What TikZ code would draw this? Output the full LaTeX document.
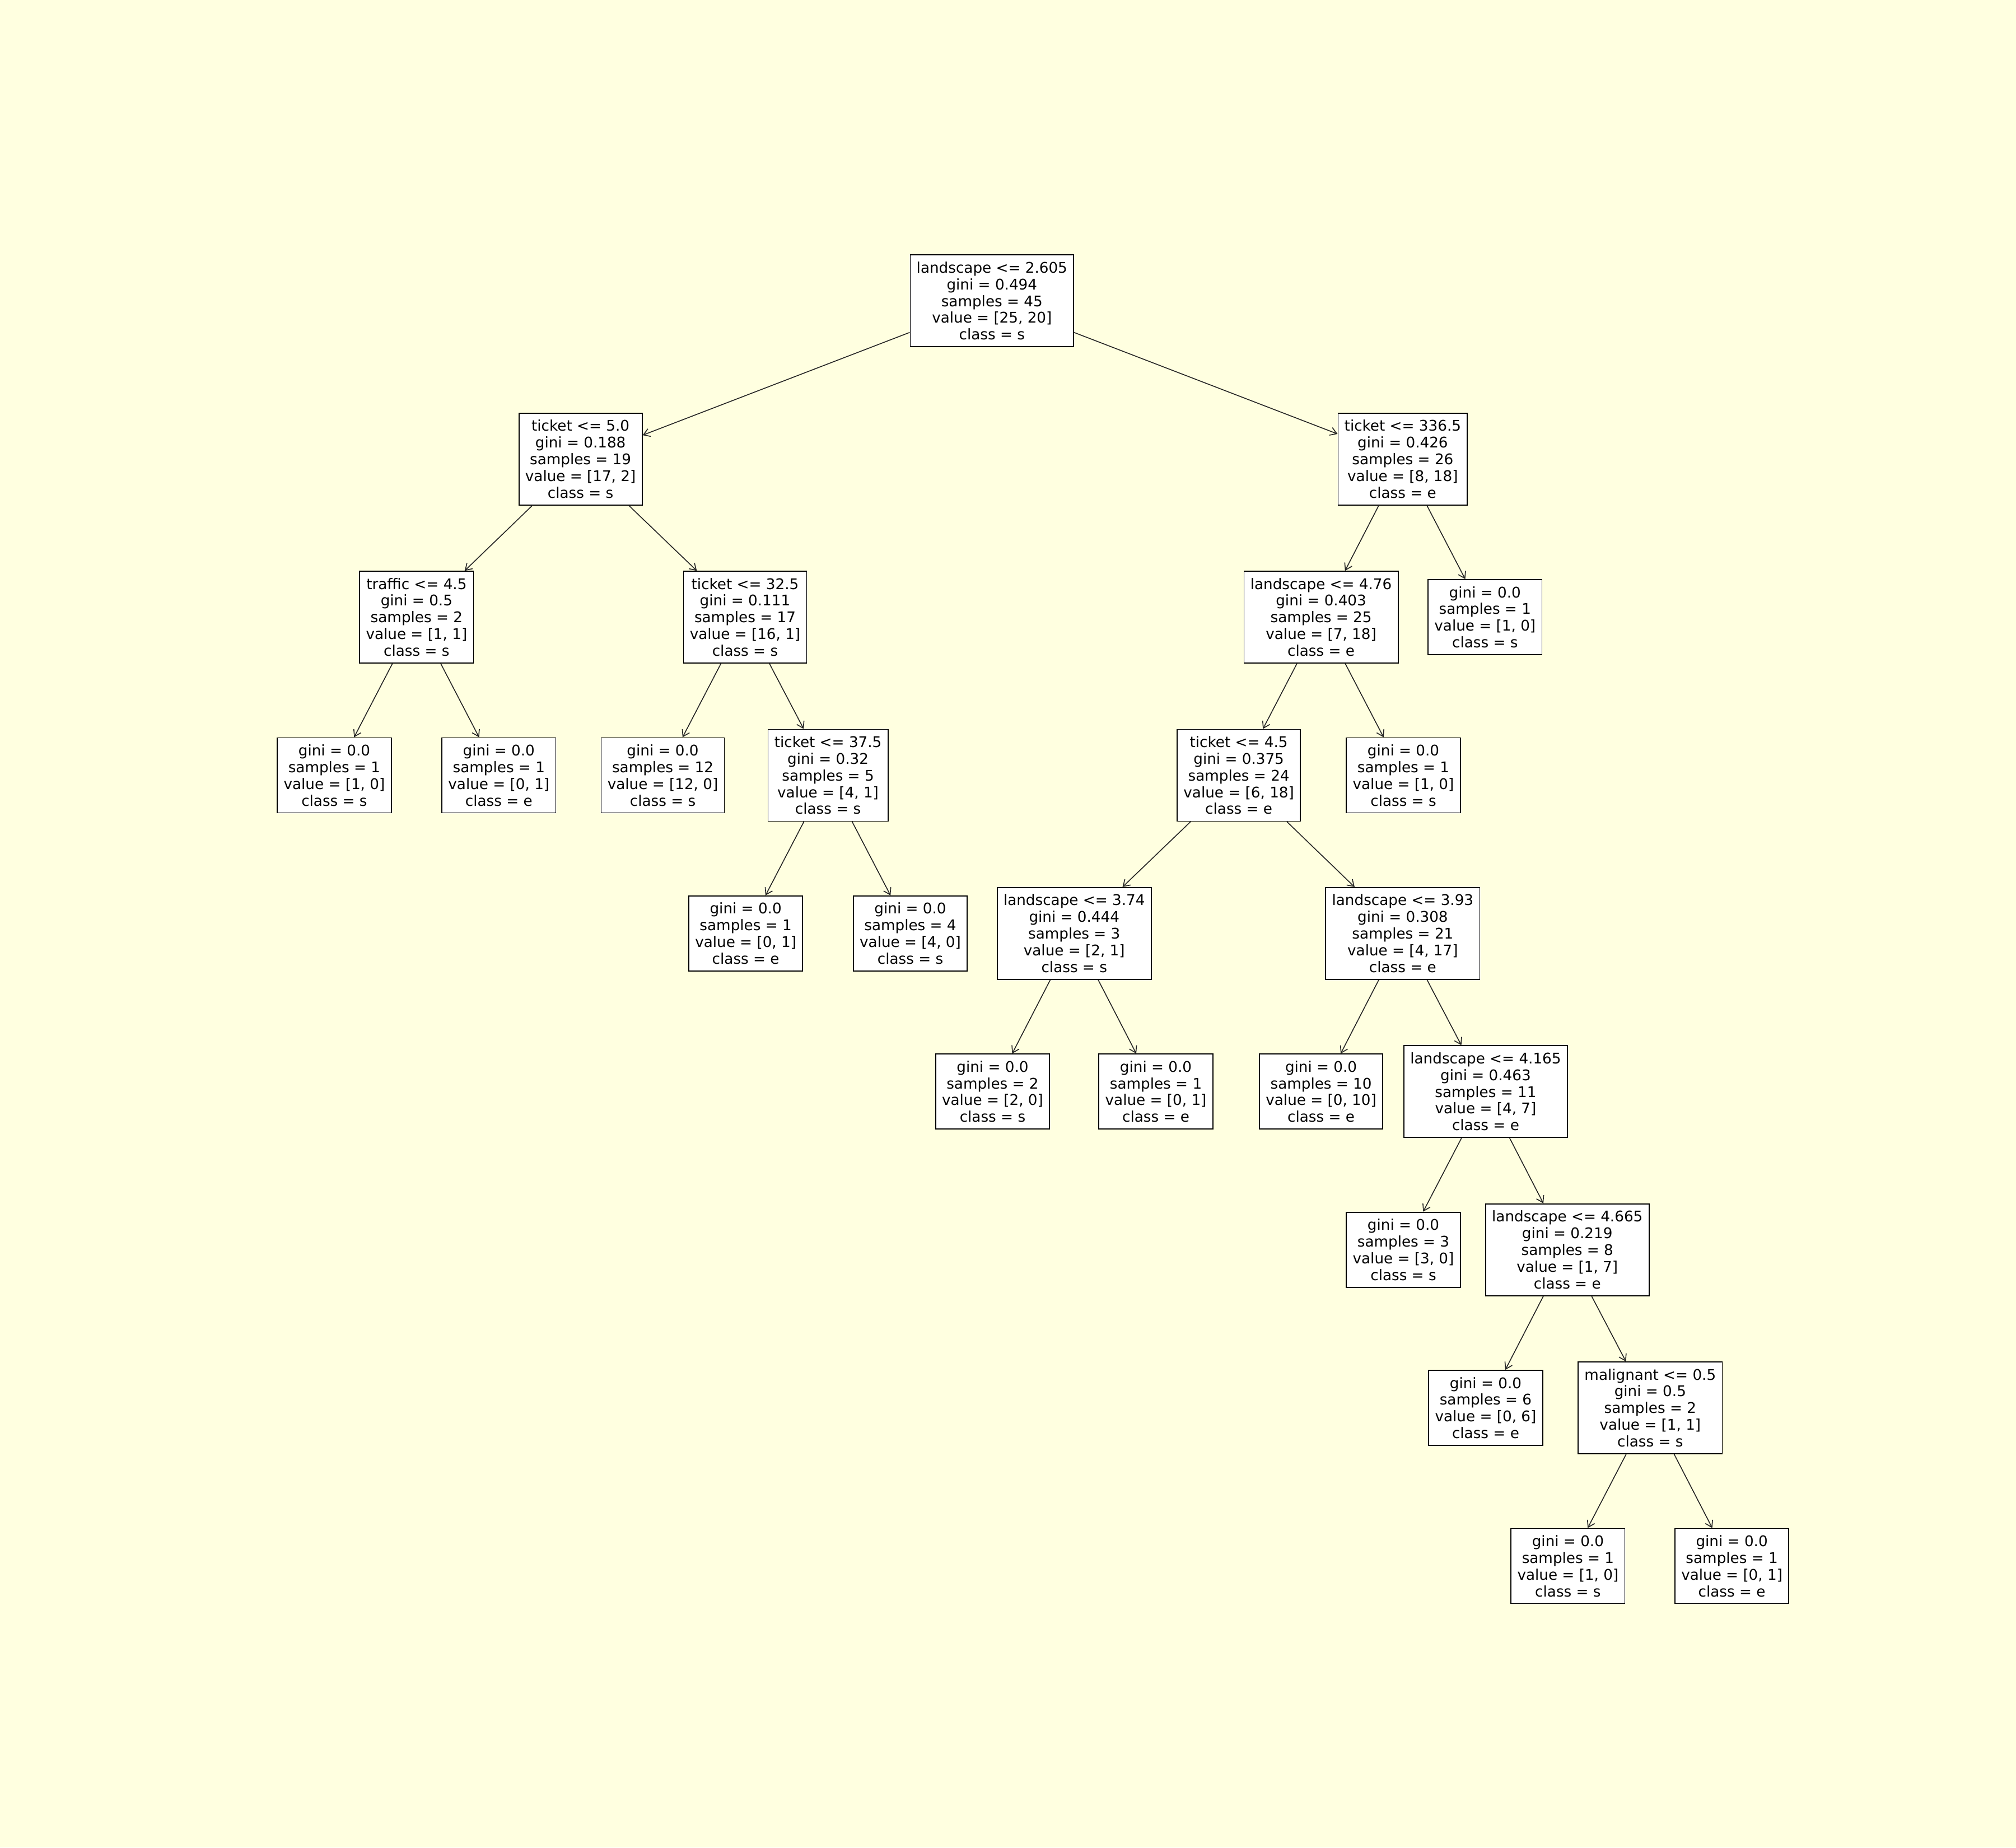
\documentclass[tikz,border=0pt]{standalone}
\usepackage{fontspec}
\setmainfont{DejaVu Sans}
\usetikzlibrary{arrows.meta}
\definecolor{paper}{HTML}{FFFFE0}

\begin{document}
\begin{tikzpicture}[x=0.02cm, y=-0.02cm,
  treenode/.style={draw=black, line width=0.45pt, fill=white,
    align=center, inner xsep=2.8pt, inner ysep=3pt,
    font=\fontsize{6.5}{7.4}\selectfont},
  branch/.style={-{Straight Barb[length=2.8pt,width=3.6pt]},
    line width=0.4pt, draw=black!85}]

  % background
  \fill[paper] (0,0) rectangle (1568,1437);

  % level 0
  \node[treenode] (root) at (771.5,234) {landscape <= 2.605\\gini = 0.494\\samples = 45\\value = [25, 20]\\class = s};
  % level 1
  \node[treenode] (tk50) at (451.5,357) {ticket <= 5.0\\gini = 0.188\\samples = 19\\value = [17, 2]\\class = s};
  \node[treenode] (tk336) at (1091,357) {ticket <= 336.5\\gini = 0.426\\samples = 26\\value = [8, 18]\\class = e};
  % level 2
  \node[treenode] (tr45) at (324,480) {traffic <= 4.5\\gini = 0.5\\samples = 2\\value = [1, 1]\\class = s};
  \node[treenode] (tk325) at (579.5,480) {ticket <= 32.5\\gini = 0.111\\samples = 17\\value = [16, 1]\\class = s};
  \node[treenode] (ls476) at (1027.5,480) {landscape <= 4.76\\gini = 0.403\\samples = 25\\value = [7, 18]\\class = e};
  \node[treenode] (lfa) at (1155,480) {gini = 0.0\\samples = 1\\value = [1, 0]\\class = s};
  % level 3
  \node[treenode] (lfb) at (260,603) {gini = 0.0\\samples = 1\\value = [1, 0]\\class = s};
  \node[treenode] (lfc) at (388,603) {gini = 0.0\\samples = 1\\value = [0, 1]\\class = e};
  \node[treenode] (lfd) at (515.5,603) {gini = 0.0\\samples = 12\\value = [12, 0]\\class = s};
  \node[treenode] (tk375) at (644,603) {ticket <= 37.5\\gini = 0.32\\samples = 5\\value = [4, 1]\\class = s};
  \node[treenode] (tk45) at (963.5,603) {ticket <= 4.5\\gini = 0.375\\samples = 24\\value = [6, 18]\\class = e};
  \node[treenode] (lfe) at (1091.5,603) {gini = 0.0\\samples = 1\\value = [1, 0]\\class = s};
  % level 4
  \node[treenode] (lff) at (580,726) {gini = 0.0\\samples = 1\\value = [0, 1]\\class = e};
  \node[treenode] (lfg) at (708,726) {gini = 0.0\\samples = 4\\value = [4, 0]\\class = s};
  \node[treenode] (ls374) at (835.5,726) {landscape <= 3.74\\gini = 0.444\\samples = 3\\value = [2, 1]\\class = s};
  \node[treenode] (ls393) at (1091,726) {landscape <= 3.93\\gini = 0.308\\samples = 21\\value = [4, 17]\\class = e};
  % level 5
  \node[treenode] (lfh) at (772,849) {gini = 0.0\\samples = 2\\value = [2, 0]\\class = s};
  \node[treenode] (lfi) at (899,849) {gini = 0.0\\samples = 1\\value = [0, 1]\\class = e};
  \node[treenode] (lfj) at (1027.5,849) {gini = 0.0\\samples = 10\\value = [0, 10]\\class = e};
  \node[treenode] (ls4165) at (1155.5,849) {landscape <= 4.165\\gini = 0.463\\samples = 11\\value = [4, 7]\\class = e};
  % level 6
  \node[treenode] (lfk) at (1091.5,972) {gini = 0.0\\samples = 3\\value = [3, 0]\\class = s};
  \node[treenode] (ls4665) at (1219,972) {landscape <= 4.665\\gini = 0.219\\samples = 8\\value = [1, 7]\\class = e};
  % level 7
  \node[treenode] (lfl) at (1155.5,1095) {gini = 0.0\\samples = 6\\value = [0, 6]\\class = e};
  \node[treenode] (mg05) at (1283.5,1095) {malignant <= 0.5\\gini = 0.5\\samples = 2\\value = [1, 1]\\class = s};
  % level 8
  \node[treenode] (lfm) at (1219.5,1218) {gini = 0.0\\samples = 1\\value = [1, 0]\\class = s};
  \node[treenode] (lfn) at (1347,1218) {gini = 0.0\\samples = 1\\value = [0, 1]\\class = e};

  % branches
  \foreach \p/\c in {root/tk50, root/tk336, tk50/tr45, tk50/tk325,
      tk336/ls476, tk336/lfa, tr45/lfb, tr45/lfc, tk325/lfd, tk325/tk375,
      ls476/tk45, ls476/lfe, tk375/lff, tk375/lfg, tk45/ls374, tk45/ls393,
      ls374/lfh, ls374/lfi, ls393/lfj, ls393/ls4165, ls4165/lfk,
      ls4165/ls4665, ls4665/lfl, ls4665/mg05, mg05/lfm, mg05/lfn}
    \draw[branch] (\p) -- (\c);
\end{tikzpicture}
\end{document}
